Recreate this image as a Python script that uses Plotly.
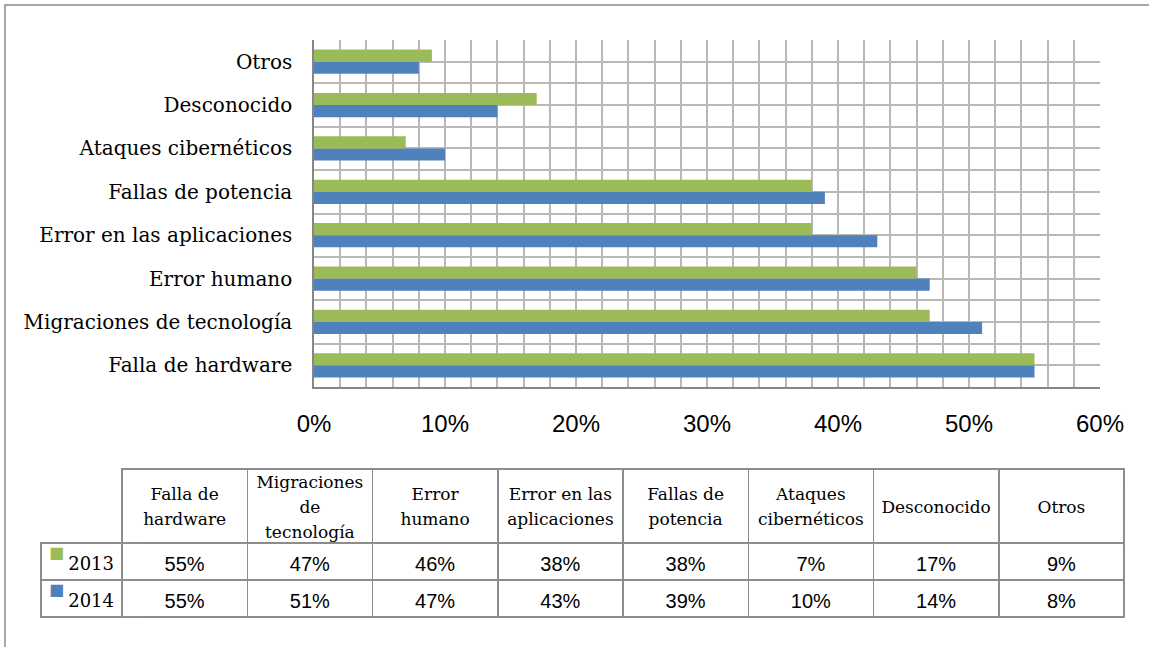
import plotly.graph_objects as go

categories = ["Falla de hardware", "Migraciones de tecnología", "Error humano",
              "Error en las aplicaciones", "Fallas de potencia", "Ataques cibernéticos",
              "Desconocido", "Otros"]
# table header labels, split into their printed lines
header_lines = [["Falla de", "hardware"], ["Migraciones", "de", "tecnología"], ["Error", "humano"],
                ["Error en las", "aplicaciones"], ["Fallas de", "potencia"], ["Ataques", "cibernéticos"],
                ["Desconocido"], ["Otros"]]
series_names = ["2013", "2014"]
values_2013 = [55, 47, 46, 38, 38, 7, 17, 9]
values_2014 = [55, 51, 47, 43, 39, 10, 14, 8]
x_ticks = [0, 10, 20, 30, 40, 50, 60]

GREEN = "#9BBB59"
BLUE = "#4F81BD"
GRID = "#B8B8B8"
BORDER = "#8C8C8C"
CLEAR = "rgba(0,0,0,0)"
W, H = 1149, 647

pos = list(range(len(categories)))

fig = go.Figure()
fig.add_trace(go.Bar(y=pos, x=[v / 100 for v in values_2014], orientation="h",
                     marker=dict(color=BLUE, line=dict(width=0)), name="2014"))
fig.add_trace(go.Bar(y=pos, x=[v / 100 for v in values_2013], orientation="h",
                     marker=dict(color=GREEN, line=dict(width=0)), name="2013"))

# ---------------- data table ----------------
TAB_L, TAB_R, HEAD_L, LAB_R = 41, 1124, 122, 122
HEAD_TOP, HEAD_H, ROW_H = 469, 74, 37
LINE_H = 25
ncol = len(header_lines)
row_tops = [HEAD_TOP + HEAD_H, HEAD_TOP + HEAD_H + ROW_H]


def table_row(values, top, x0, x1, height, widths=None, grid=False, align="center",
              font=None):
    """One table row (drawn as a header-only plotly Table)."""
    n = len(values)
    fig.add_trace(go.Table(
        domain=dict(x=[x0 / W, x1 / W], y=[0, 1 - top / H]),
        columnwidth=widths or [1] * n,
        header=dict(values=values, height=height, align=align,
                    fill=dict(color="white" if grid else CLEAR),
                    line=dict(color=BORDER if grid else CLEAR, width=1.5 if grid else 0),
                    font=font or dict(family="DejaVu Serif", size=17, color="black")),
        cells=dict(values=[[] for _ in range(n)]),
    ))


# cell grids (the header row has no top-left corner cell)
table_row([""] * ncol, HEAD_TOP, HEAD_L, TAB_R, HEAD_H, grid=True)
body_widths = [LAB_R - TAB_L] + [(TAB_R - LAB_R) / ncol] * ncol
for top in row_tops:
    table_row([""] * (ncol + 1), top, TAB_L, TAB_R, ROW_H, widths=body_widths, grid=True)

# header texts: every printed line centred in its cell, block centred vertically
MID = HEAD_TOP + 38
slots = {}
for c, lines in enumerate(header_lines):
    n = len(lines)
    for i, txt in enumerate(lines):
        top = MID + (i - (n - 1) / 2) * LINE_H - 15
        slots.setdefault(top, [""] * ncol)[c] = txt
for top, vals in sorted(slots.items()):
    table_row(vals, top, HEAD_L, TAB_R, LINE_H)

# body texts
value_font = dict(family=["DejaVu Serif"] + ["Liberation Sans"] * ncol,
                  size=[18] + [20] * ncol, color="black")
for top, name, vals, col in zip(row_tops, series_names, [values_2013, values_2014], [GREEN, BLUE]):
    table_row([name] + [f"{v}%" for v in vals], top + 5, TAB_L, TAB_R, ROW_H,
              widths=body_widths, align=["right"] + ["center"] * ncol, font=value_font)
    # legend key square
    table_row(["■"], top - 5, TAB_L, LAB_R, ROW_H, align="left",
              font=dict(family="DejaVu Sans", size=16, color=col))

fig.update_layout(
    width=W, height=H, margin=dict(l=0, r=0, t=0, b=0, pad=0), autosize=False,
    paper_bgcolor="white", plot_bgcolor="white",
    showlegend=False, barmode="group", bargap=0.44, bargroupgap=0,
    xaxis=dict(domain=[314 / W, 1100 / W], range=[0, 0.6], automargin=False,
               tickvals=[t / 100 for t in x_ticks], ticktext=[f"{t}%" for t in x_ticks],
               showgrid=True, gridcolor=GRID, gridwidth=1.5,
               minor=dict(dtick=0.02, showgrid=True, gridcolor=GRID, gridwidth=1.5),
               showline=True, linecolor="#868686", linewidth=1.5, zeroline=False,
               ticks="", ticklabelstandoff=14,
               tickfont=dict(family="Liberation Sans", size=24, color="black")),
    yaxis=dict(domain=[1 - 387 / H, 1 - 40 / H], range=[-0.5, 7.5], automargin=False,
               tickvals=pos, ticktext=categories,
               showgrid=True, gridcolor=GRID, gridwidth=1.5,
               minor=dict(dtick=0.5, tick0=-0.5, showgrid=True, gridcolor=GRID, gridwidth=1.5),
               showline=True, linecolor="#868686", linewidth=1.5, zeroline=False,
               ticks="", ticklabelstandoff=16,
               tickfont=dict(family="DejaVu Serif", size=20, color="black")),
    shapes=[dict(type="rect", xref="paper", yref="paper",
                 x0=5 / W, x1=1.05, y0=-0.05, y1=1 - 5 / H,
                 line=dict(color="#8A8A8A", width=1.5), fillcolor=CLEAR)],
)

fig.write_html("out.html")
